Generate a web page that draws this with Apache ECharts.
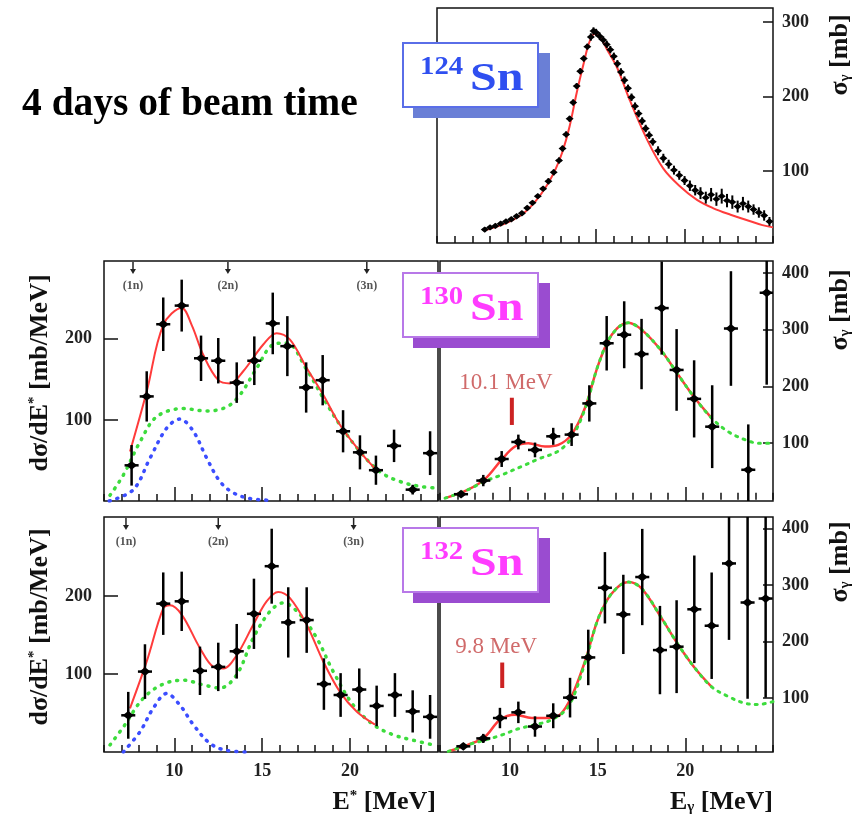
<!DOCTYPE html>
<html><head><meta charset="utf-8">
<script src="https://cdn.jsdelivr.net/npm/echarts@6/dist/echarts.min.js"></script>
<style>html,body{margin:0;padding:0;background:#fff}#c{width:865px;height:814px}</style>
</head><body><div id="c"></div><script>
// ---------------- data ----------------
const xLabelTicks = [10, 15, 20];
const yTopTicks = [100, 200, 300];
const yLeftTicks = [100, 200];
const yRightTicks = [100, 200, 300, 400];

// 124Sn photoabsorption: [E, sigma, dsigma]
const sn124Data = [[8.7,21,3],[9.0,24,3],[9.3,26,3],[9.6,29,3],[9.9,32,3],[10.2,35,3],[10.5,39,3],[10.8,43,3],[11.1,50,3],[11.4,57,3],[11.7,66,3],[12.0,76,3],[12.3,86,4],[12.6,98,4],[12.9,114,4],[13.1,130,4],[13.3,149,4],[13.5,170,4],[13.7,192,4],[13.9,214,4],[14.1,234,4],[14.3,251,4],[14.5,267,4],[14.7,280,5],[14.85,288,5],[15.0,286,5],[15.2,281,5],[15.4,276,5],[15.6,270,5],[15.8,263,5],[16.0,254,5],[16.2,244,5],[16.4,233,5],[16.6,222,5],[16.8,211,5],[17.0,199,5],[17.2,187,5],[17.4,177,5],[17.6,167,5],[17.8,157,5],[18.0,148,5],[18.2,139,5],[18.5,127,6],[18.8,117,6],[19.1,109,6],[19.4,101,6],[19.7,94,6],[20.0,87,6],[20.3,80,7],[20.6,74,7],[20.9,70,8],[21.2,64,8],[21.5,68,9],[21.8,62,9],[22.1,66,10],[22.4,60,9],[22.7,58,9],[23.0,52,8],[23.3,56,9],[23.6,52,8],[23.9,48,7],[24.2,44,7],[24.5,40,7],[24.8,32,6]];
const sn124Fit = [[8.7,20],[9.5,26],[10.3,34],[11.0,45],[11.6,60],[12.2,80],[12.7,102],[13.1,126],[13.5,160],[13.9,205],[14.3,245],[14.6,272],[14.9,284],[15.2,281],[15.6,264],[16.2,238],[16.9,195],[17.9,141],[18.8,103],[19.7,80],[20.7,61],[21.6,50],[22.6,41],[23.5,34],[24.4,27],[25.0,24]];

// 130Sn Coulomb excitation: [E*, dsigma/dE*, err]
const sn130Coul = [[7.57,44,25],[8.43,129,31],[9.37,218,33],[10.42,241,32],[11.52,176,28],[12.5,173,28],[13.55,146,25],[14.55,173,30],[15.6,219,38],[16.43,191,37],[17.5,140,31],[18.44,149,31],[19.6,86,26],[20.56,60,21],[21.47,38,18],[22.5,68,20],[23.56,14,6],[24.55,59,27]];
const sn130CoulFit = [[7.48,61],[8.43,135],[9.37,217],[10.42,238],[10.99,217],[11.65,180],[12.5,149],[13.17,145],[13.92,160],[15.06,193],[15.82,207],[16.58,199],[17.53,164],[18.47,131],[19.42,94],[20.56,61],[21.42,40]];
const sn130CoulGdr = [[6.34,7],[7.1,32],[8.05,73],[9.0,104],[10.5,114],[11.84,111],[12.98,116],[13.74,131],[14.69,164],[15.63,193],[16.39,195],[17.53,162],[18.47,127],[19.42,94],[20.56,61],[21.7,36],[22.84,24],[23.97,18],[24.9,16]];
const sn130CoulPdr = [[6.3,0],[7.67,14],[8.62,53],[9.57,90],[10.32,101],[11.08,86],[11.84,53],[12.6,24],[13.36,10],[14.3,3],[15.3,1]];
// 130Sn photoabsorption: [E_gamma, sigma_gamma, err]
const sn130Abs = [[7.2,10,5],[8.47,34,10],[9.52,72,14],[10.47,102,13],[11.42,88,13],[12.46,112,15],[13.51,115,20],[14.52,170,32],[15.51,276,48],[16.51,291,59],[17.5,257,62],[18.65,338,82],[19.5,229,72],[20.5,178,68],[21.53,129,73],[22.6,302,101],[23.59,53,80],[24.64,365,162]];
const sn130AbsFit = [[6.29,3],[7.6,18],[8.57,37],[9.52,71],[10.28,94],[11.04,100],[11.99,94],[12.75,97],[13.5,115],[14.27,162],[15.03,238],[15.8,291],[16.74,312],[17.5,300],[18.65,262],[19.6,220],[20.55,179],[21.5,144]];
const sn130AbsGdr = [[6.29,3],[7.6,18],[8.57,33],[9.52,44],[10.66,59],[11.61,72],[12.75,86],[13.5,109],[14.27,160],[15.03,238],[15.8,291],[16.74,312],[17.5,300],[18.65,262],[19.6,220],[20.55,179],[21.5,144],[22.45,120],[23.4,106],[24.16,100],[25.0,100]];
const sn130Peak = [[10.1,206,180,132]];
const sn130PeakLabel = ['10.1 MeV'];

// 132Sn Coulomb excitation
const sn132Coul = [[7.38,47,30],[8.33,103,35],[9.37,190,40],[10.42,193,38],[11.46,104,31],[12.5,109,31],[13.55,129,35],[14.53,177,45],[15.54,238,48],[16.48,166,45],[17.53,169,42],[18.51,87,33],[19.46,73,28],[20.52,80,27],[21.51,59,26],[22.55,73,28],[23.56,52,27],[24.55,45,28]];
const sn132CoulFit = [[7.48,56],[8.43,116],[9.37,184],[9.75,188],[10.42,176],[11.46,133],[12.22,109],[12.79,107],[13.55,124],[14.49,163],[15.25,193],[15.91,205],[16.58,197],[17.53,163],[18.47,116],[19.42,77],[20.37,52],[21.42,35]];
const sn132CoulGdr = [[6.34,9],[7.1,32],[8.24,69],[9.37,87],[10.51,92],[11.65,86],[12.6,82],[13.55,99],[14.49,146],[15.44,180],[16.2,191],[17.15,176],[18.1,146],[19.04,103],[20.18,60],[21.32,35],[22.46,22],[23.6,15],[24.73,9]];
const sn132CoulPdr = [[7.1,0],[8.05,26],[8.8,56],[9.57,75],[10.32,60],[11.08,35],[12.03,11],[12.98,2],[14.3,0]];
// 132Sn photoabsorption
const sn132Abs = [[7.33,15,5],[8.47,29,8],[9.42,65,18],[10.47,75,19],[11.42,50,18],[12.46,69,22],[13.42,101,35],[14.46,172,49],[15.41,295,63],[16.46,248,70],[17.54,314,85],[18.55,185,78],[19.5,191,82],[20.51,257,95],[21.5,228,94],[22.49,338,135],[23.55,269,170],[24.58,276,175]];
const sn132AbsFit = [[6.47,6],[7.62,18],[8.57,32],[9.42,62],[10.28,71],[11.23,65],[12.18,65],[12.85,71],[13.51,103],[14.27,165],[15.03,241],[15.8,285],[16.74,305],[17.5,294],[18.65,241],[19.6,194],[20.55,153],[21.5,120]];
const sn132AbsGdr = [[6.47,6],[7.62,18],[8.57,26],[9.52,35],[10.47,46],[11.42,53],[12.37,62],[13.32,85],[14.27,162],[15.03,241],[15.8,285],[16.74,305],[17.5,294],[18.65,241],[19.6,194],[20.55,153],[21.5,120],[22.45,103],[23.4,91],[24.16,89],[25.0,94]];
const sn132Peak = [[9.55,190,163,118]];
const sn132PeakLabel = ['9.8 MeV'];

// neutron thresholds
const thrLabels = ['(1n)', '(2n)', '(3n)'];
const thr130 = [[7.65],[13.05],[20.95]];
const thr132 = [[7.25],[12.5],[20.2]];

// ---------------- layout ----------------
const SERIF = "'Liberation Serif','DejaVu Serif',serif";
const grids = [
  {left:437, top:8, width:336, height:235},
  {left:104, top:261, width:334, height:240},
  {left:440, top:261, width:333, height:240},
  {left:104, top:517, width:334, height:235},
  {left:440, top:517, width:333, height:235}
];
const yRanges = [[3,319],[0,296],[-2,421],[0,301],[5,420]];
const yPos = ['right','left','right','left','right'];
const yTickVals = [yTopTicks, yLeftTicks, yRightTicks, yLeftTicks, yRightTicks];
const showXLabels = [false,false,false,true,true];
const lblFont = {fontFamily:SERIF, fontWeight:'bold', fontSize:18, color:'#222'};
const tickLine = {color:'#111', width:1.5};

const xAxis = [];
grids.forEach((g,i)=>{
  xAxis.push({gridIndex:i, type:'value', position:'bottom', min:6, max:25, interval:1,
    axisLine:{show:false}, splitLine:{show:false}, axisLabel:{show:false},
    axisTick:{show:true, inside:true, length:7, lineStyle:tickLine}});
  xAxis.push({gridIndex:i, type:'value', position:'bottom', min:6, max:25,
    axisLine:{show:false}, splitLine:{show:false},
    axisTick:{show:true, inside:true, length:14, customValues:xLabelTicks, lineStyle:tickLine},
    axisLabel:Object.assign({show:showXLabels[i], customValues:xLabelTicks, margin:10,
      formatter:v=>xLabelTicks.includes(v)?String(v):''}, lblFont)});
});
const yAxis = grids.map((g,i)=>({gridIndex:i, type:'value', position:yPos[i],
  min:yRanges[i][0], max:yRanges[i][1],
  axisLine:{show:false}, splitLine:{show:false},
  axisTick:{show:true, inside:true, length: yPos[i]==='left'?14:10, customValues:yTickVals[i], lineStyle:tickLine},
  axisLabel:Object.assign({customValues:yTickVals[i], margin: yPos[i]==='left'?12:9,
    formatter:v=>yTickVals[i].includes(v)?String(v):''}, lblFont)}));

function errSeries(data, gi, ex, hs, lw) {
  return {type:'custom', xAxisIndex:gi*2+1, yAxisIndex:gi, data:data, clip:true, z:5, silent:true,
    renderItem:(p, api)=>{
      const x=api.value(0), y=api.value(1), ey=api.value(2);
      const c=api.coord([x,y]), t=api.coord([x,y+ey]), b=api.coord([x,y-ey]);
      const l=api.coord([x-ex,y]), r=api.coord([x+ex,y]);
      const st={stroke:'#000', lineWidth:lw};
      return {type:'group', children:[
        {type:'line', shape:{x1:c[0],y1:t[1],x2:c[0],y2:b[1]}, style:st},
        {type:'line', shape:{x1:l[0],y1:c[1],x2:r[0],y2:c[1]}, style:st},
        {type:'polygon', shape:{points:[[c[0],c[1]-hs*0.8],[c[0]+hs,c[1]],[c[0],c[1]+hs*0.8],[c[0]-hs,c[1]]]}, style:{fill:'#000'}}
      ]};
    }};
}
function curve(data, gi, color, width, type, z, cap) {
  return {type:'line', xAxisIndex:gi*2+1, yAxisIndex:gi, data:data, symbol:'none', showSymbol:false,
    smooth:0.35, silent:true, z:z, lineStyle:{color:color, width:width, type:type, cap:cap||'butt'}};
}
function thrSeries(data, gi) {
  return {type:'custom', xAxisIndex:gi*2+1, yAxisIndex:gi, data:data, z:6, silent:true,
    renderItem:(p, api)=>{
      const x=api.coord([api.value(0), 0])[0];
      const top=p.coordSys.y;
      return {type:'group', children:[
        {type:'line', shape:{x1:x,y1:top+1,x2:x,y2:top+10}, style:{stroke:'#222', lineWidth:1.5}},
        {type:'polygon', shape:{points:[[x-3,top+8],[x+3,top+8],[x,top+13]]}, style:{fill:'#222'}},
        {type:'text', x:x, y:top+25, style:{text:thrLabels[p.dataIndex], fontFamily:SERIF, fontWeight:'bold', fontSize:12, fill:'#555', align:'center', verticalAlign:'middle'}}
      ]};
    }};
}
function peakSeries(data, labels, gi) {
  return {type:'custom', xAxisIndex:gi*2+1, yAxisIndex:gi, data:data, z:6, silent:true,
    renderItem:(p, api)=>{
      const x=api.value(0);
      const lp=api.coord([x, api.value(1)]), tp=api.coord([x, api.value(2)]), bp=api.coord([x, api.value(3)]);
      return {type:'group', children:[
        {type:'text', x:lp[0]-6, y:lp[1], style:{text:labels[p.dataIndex], fontFamily:SERIF, fontSize:23, fill:'#d06a6a', align:'center', verticalAlign:'middle'}},
        {type:'line', shape:{x1:tp[0],y1:tp[1],x2:bp[0],y2:bp[1]}, style:{stroke:'#cc2222', lineWidth:4}}
      ]};
    }};
}

const RED='#ff3b3b', GREEN='#3ddc3d', BLUE='#3b4dff';
const series = [
  curve(sn124Fit, 0, RED, 2, 'solid', 3),
  errSeries(sn124Data, 0, 0.13, 4, 2),

  curve(sn130CoulGdr, 1, GREEN, 3.5, [1,7], 2, 'round'),
  curve(sn130CoulPdr, 1, BLUE, 3.5, [1,7], 2, 'round'),
  curve(sn130CoulFit, 1, RED, 2, 'solid', 3),
  errSeries(sn130Coul, 1, 0.4, 5.5, 2.5),
  thrSeries(thr130, 1),

  curve(sn130AbsFit, 2, RED, 2.5, 'solid', 2),
  curve(sn130AbsGdr, 2, GREEN, 3, [2,6], 3, 'round'),
  errSeries(sn130Abs, 2, 0.4, 5.5, 2.5),
  peakSeries(sn130Peak, sn130PeakLabel, 2),

  curve(sn132CoulGdr, 3, GREEN, 3.5, [1,7], 2, 'round'),
  curve(sn132CoulPdr, 3, BLUE, 3.5, [1,7], 2, 'round'),
  curve(sn132CoulFit, 3, RED, 2, 'solid', 3),
  errSeries(sn132Coul, 3, 0.4, 5.5, 2.5),
  thrSeries(thr132, 3),

  curve(sn132AbsFit, 4, RED, 2.5, 'solid', 2),
  curve(sn132AbsGdr, 4, GREEN, 3, [2,6], 3, 'round'),
  errSeries(sn132Abs, 4, 0.4, 5.5, 2.5),
  peakSeries(sn132Peak, sn132PeakLabel, 4)
];

function snLabel(y0, mass, border, shadow, txt) {
  return [
    {type:'rect', z:100, shape:{x:413, y:y0+10, width:137, height:65}, style:{fill:shadow}},
    {type:'rect', z:101, shape:{x:403, y:y0, width:135, height:64}, style:{fill:'#fff', stroke:border, lineWidth:2}},
    {type:'text', z:102, x:420, y:y0+25, scaleX:1.15, style:{text:mass, fontSize:25, fontWeight:'bold', fontFamily:SERIF, fill:txt, align:'left', verticalAlign:'middle'}},
    {type:'text', z:102, x:470, y:y0+37, scaleX:1.2, style:{text:'Sn', fontSize:40, fontWeight:'bold', fontFamily:SERIF, fill:txt, align:'left', verticalAlign:'middle'}}
  ];
}
const tFont = {fontFamily:SERIF, fontWeight:'bold', fill:'#111'};
const richT = {
  a:Object.assign({fontSize:26}, tFont),
  s:Object.assign({fontSize:15, verticalAlign:'top'}, tFont),
  u:Object.assign({fontSize:15, verticalAlign:'bottom'}, tFont)
};
function title(text, x, y, rot, align) {
  return {type:'text', z:50, x:x, y:y, rotation:rot, style:{text:text, rich:richT, align:align, verticalAlign:'middle'}};
}
const graphic = [].concat(
  [{type:'text', z:50, x:22, y:105, style:{text:'4 days of beam time', fontFamily:SERIF, fontWeight:'bold', fontSize:39.5, fill:'#000', align:'left', verticalAlign:'middle'}}],
  snLabel(43, '124', '#5a6ee8', '#6a7fd6', '#2f4ff0'),
  snLabel(273, '130', '#b878e8', '#9a4cd0', '#ff3cff'),
  snLabel(528, '132', '#b878e8', '#9a4cd0', '#ff3cff'),
  [
    title('{a|dσ/dE}{s|*}{a| [mb/MeV]}', 40, 373, Math.PI/2, 'center'),
    title('{a|dσ/dE}{s|*}{a| [mb/MeV]}', 40, 627, Math.PI/2, 'center'),
    title('{a|σ}{u|γ}{a| [mb]}', 840, 55, Math.PI/2, 'center'),
    title('{a|σ}{u|γ}{a| [mb]}', 840, 310, Math.PI/2, 'center'),
    title('{a|σ}{u|γ}{a| [mb]}', 840, 562, Math.PI/2, 'center'),
    title('{a|E}{s|*}{a| [MeV]}', 436, 802, 0, 'right'),
    title('{a|E}{u|γ}{a| [MeV]}', 773, 802, 0, 'right')
  ]
);

const chart = echarts.init(document.getElementById('c'), null, {renderer:'canvas'});
chart.setOption({
  animation:false,
  backgroundColor:'#fff',
  grid: grids.map(g=>Object.assign({show:true, borderColor:'#111', borderWidth:1.5, backgroundColor:'transparent'}, g)),
  xAxis: xAxis,
  yAxis: yAxis,
  series: series,
  graphic: graphic
});
</script></body></html>
